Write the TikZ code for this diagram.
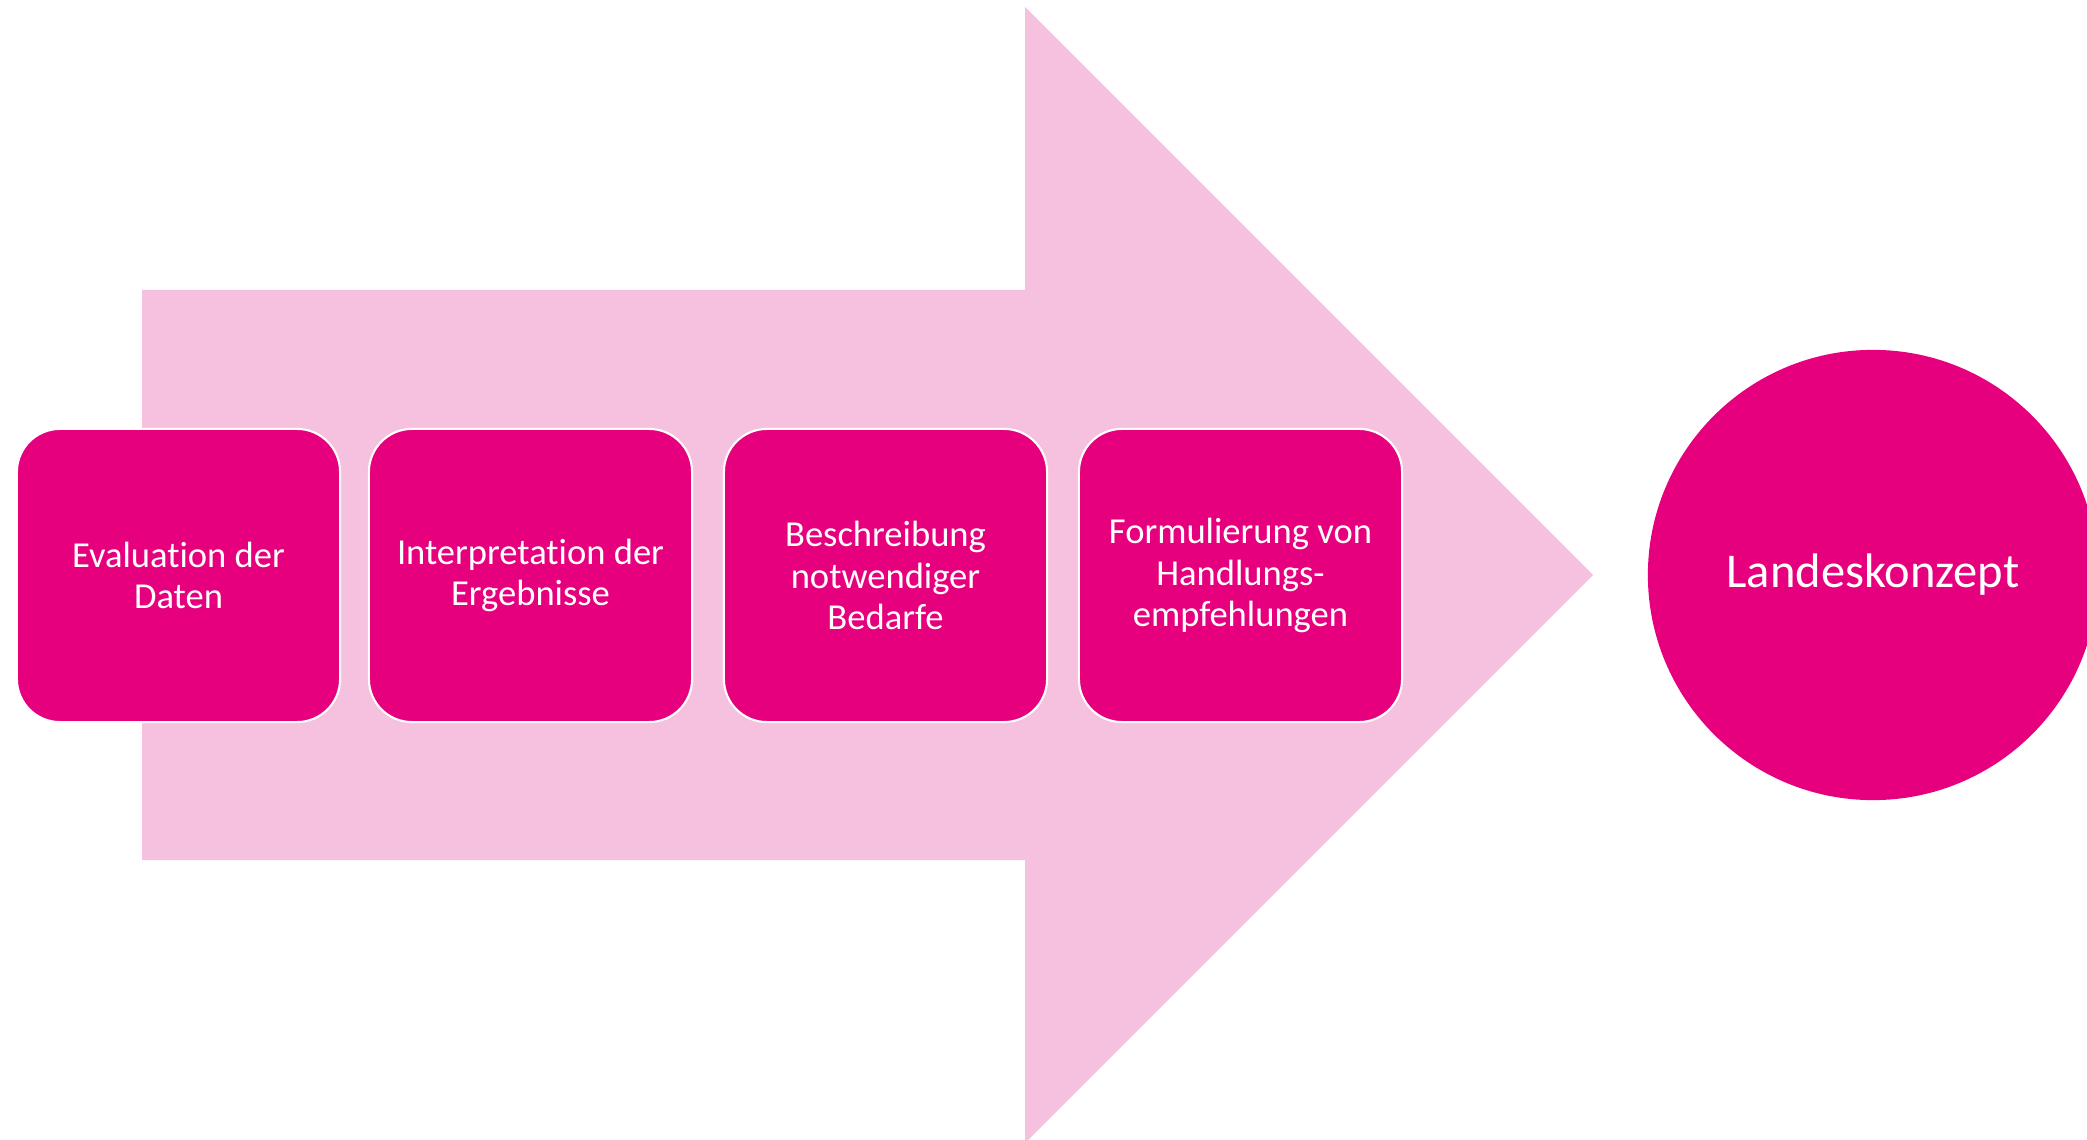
\documentclass[tikz,border=0pt]{standalone}
\usepackage{fontspec}
\setmainfont{Carlito}[Ligatures=NoCommon]
\usepackage{tikz}
\definecolor{magenta}{HTML}{E6007E}
\definecolor{lightpink}{HTML}{F6C0DF}
\tikzstyle{stage}=[rectangle, rounded corners=0.43cm, fill=magenta,
                   draw=white, line width=0.6pt,
                   minimum width=3.23cm, minimum height=2.93cm,
                   text=white, align=center,
                   font=\fontsize{10.4pt}{11.7pt}\selectfont]
\tikzstyle{goal}=[circle, fill=magenta, minimum size=4.5cm,
                  inner sep=0pt, text=white,
                  font=\fontsize{13.8pt}{16pt}\selectfont]

\begin{document}
\begin{tikzpicture}[x=0.01cm, y=-0.01cm]
   \useasboundingbox (0,0) rectangle (2087,1140);
   \clip (0,0) rectangle (2087,1140);
   % big arrow in the background
   \fill [lightpink] (142,290) -- (1025,290) -- (1025,7) -- (1593,575)
        -- (1025,1143) -- (1025,860) -- (142,860) -- cycle;

   \node (eval)  at (178.5,575.5)  [stage] {Evaluation der\\Daten};
   \node (inter) at (530.5,575.5)  [stage] {Interpretation der\\Ergebnisse};
   \node (bed)   at (885.5,575.5)  [stage] {Beschreibung\\notwendiger\\Bedarfe};
   \node (empf)  at (1240.5,575.5) [stage] {Formulierung von\\Handlungs-\\empfehlungen};

   \node (land) at (1873,575) [goal] {Landeskonzept};
\end{tikzpicture}
\end{document}
